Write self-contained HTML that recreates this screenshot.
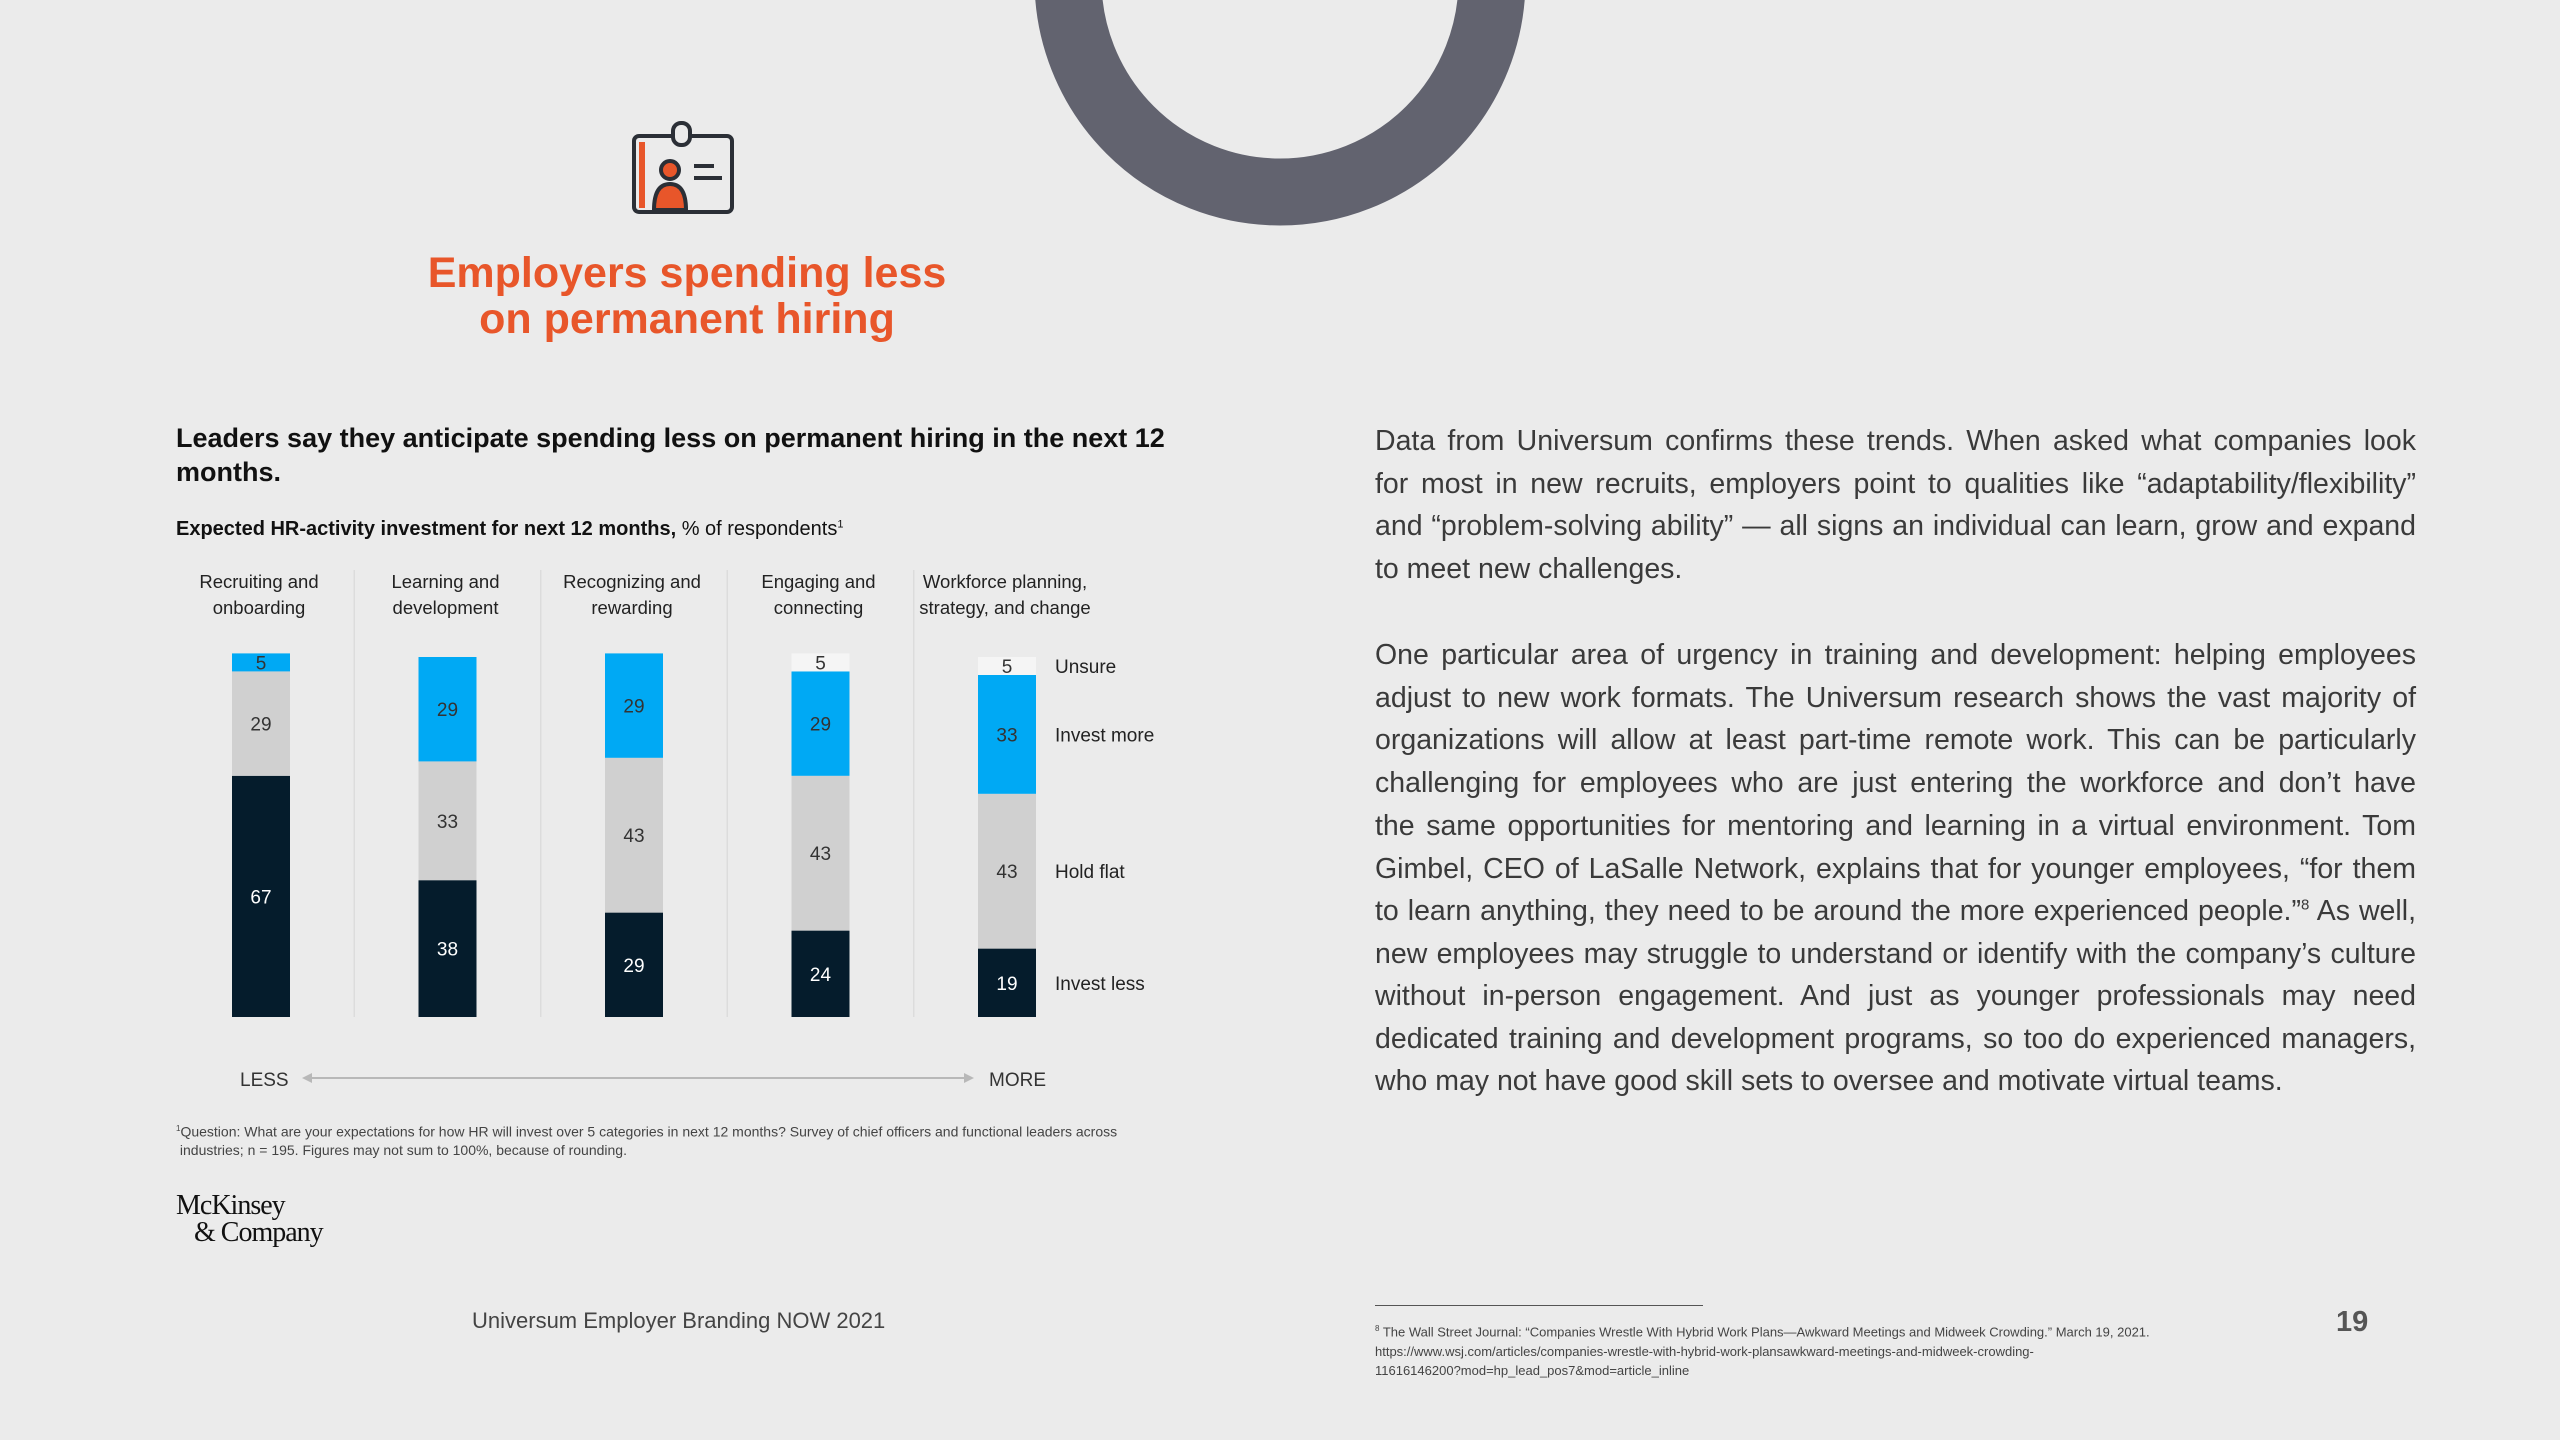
<!DOCTYPE html>
<html><head><meta charset="utf-8">
<style>
*{margin:0;padding:0;box-sizing:border-box}
body{width:2560px;height:1440px;background:#ebebeb;position:relative;overflow:hidden;font-family:"Liberation Sans",sans-serif}
.abs{position:absolute}
.title{left:287px;width:800px;text-align:center;color:#e8562a;font-weight:bold;font-size:43px;line-height:46px;top:250px}
.rt{left:1375px;width:1041px;color:#3a3a3a;font-size:28.5px;position:absolute;white-space:nowrap}
.j{text-align:justify;text-align-last:justify}
</style></head>
<body>
<svg class="abs" style="left:0;top:0" width="2560" height="1440">
<circle cx="1280" cy="-20" r="212" fill="none" stroke="#62636f" stroke-width="67"/>
</svg>
<svg class="abs" style="left:630px;top:118px" width="110" height="100" viewBox="0 0 110 100">
<rect x="4" y="18" width="98" height="76" rx="5" fill="none" stroke="#2b2f36" stroke-width="4"/>
<rect x="9" y="24" width="6" height="66" fill="#e8562a"/>
<rect x="43" y="5" width="17" height="22" rx="8" fill="#ebebeb" stroke="#2b2f36" stroke-width="4"/>
<circle cx="40" cy="52" r="9" fill="#e8562a" stroke="#2b2f36" stroke-width="4"/>
<path d="M24 92 Q24 66 40 66 Q56 66 56 92 Z" fill="#e8562a" stroke="#2b2f36" stroke-width="4"/>
<rect x="64" y="46" width="20" height="4" fill="#2b2f36"/><rect x="64" y="58" width="28" height="4" fill="#2b2f36"/>
</svg>
<div class="abs title">Employers spending less<br>on permanent hiring</div>

<div class="abs" style="left:176px;top:421px;width:1060px;font-size:27px;font-weight:bold;color:#111;line-height:34px">Leaders say they anticipate spending less on permanent hiring in the next 12 months.</div>
<div class="abs" style="left:176px;top:518px;font-size:20px;color:#111;white-space:nowrap"><b>Expected HR-activity investment for next 12 months,</b> % of respondents<sup style="font-size:11px">1</sup></div>

<svg id="chart" class="abs" style="left:0;top:0" width="2560" height="1440"></svg>

<div class="abs" style="left:176px;top:1120px;font-size:14px;color:#444;line-height:18px;white-space:nowrap"><sup style="font-size:8px">1</sup>Question: What are your expectations for how HR will invest over 5 categories in next 12 months? Survey of chief officers and functional leaders across<br>&nbsp;industries; n = 195. Figures may not sum to 100%, because of rounding.</div>
<div class="abs" style="left:176px;top:1192px;font-family:'Liberation Serif',serif;font-size:28px;line-height:27px;color:#111;letter-spacing:-1px">McKinsey<br>&nbsp;&nbsp;&nbsp;&amp; Company</div>
<div class="abs" style="left:472px;top:1308px;font-size:22px;color:#444">Universum Employer Branding NOW 2021</div>

<div>
<div class="rt j" style="top:425px">Data from Universum confirms these trends. When asked what companies look</div>
<div class="rt j" style="top:468px">for most in new recruits, employers point to qualities like “adaptability/flexibility”</div>
<div class="rt j" style="top:510px">and “problem-solving ability” — all signs an individual can learn, grow and expand</div>
<div class="rt" style="top:553px">to meet new challenges.</div>
</div>
<div>
<div class="rt j" style="top:639px">One particular area of urgency in training and development: helping employees</div>
<div class="rt j" style="top:682px">adjust to new work formats. The Universum research shows the vast majority of</div>
<div class="rt j" style="top:724px">organizations will allow at least part-time remote work. This can be particularly</div>
<div class="rt j" style="top:767px">challenging for employees who are just entering the workforce and don’t have</div>
<div class="rt j" style="top:810px">the same opportunities for mentoring and learning in a virtual environment. Tom</div>
<div class="rt j" style="top:853px">Gimbel, CEO of LaSalle Network, explains that for younger employees, “for them</div>
<div class="rt j" style="top:895px">to learn anything, they need to be around the more experienced people.”<sup style="font-size:15px">8</sup> As well,</div>
<div class="rt j" style="top:938px">new employees may struggle to understand or identify with the company’s culture</div>
<div class="rt j" style="top:980px">without in-person engagement. And just as younger professionals may need</div>
<div class="rt j" style="top:1023px">dedicated training and development programs, so too do experienced managers,</div>
<div class="rt" style="top:1065px">who may not have good skill sets to oversee and motivate virtual teams.</div>
</div>
<div class="abs" style="left:1375px;top:1305px;width:328px;height:1px;background:#555"></div>
<div class="abs" style="left:1375px;top:1319px;font-size:13px;line-height:19.5px;color:#444;white-space:nowrap"><sup style="font-size:8px">8</sup> The Wall Street Journal: “Companies Wrestle With Hybrid Work Plans—Awkward Meetings and Midweek Crowding.” March 19, 2021.<br>https://www.wsj.com/articles/companies-wrestle-with-hybrid-work-plansawkward-meetings-and-midweek-crowding-<br>11616146200?mod=hp_lead_pos7&amp;mod=article_inline</div>
<div class="abs" style="left:2336px;top:1306px;font-size:29px;font-weight:bold;color:#555">19</div>

<script>
const categories = [["Recruiting and","onboarding"],["Learning and","development"],["Recognizing and","rewarding"],["Engaging and","connecting"],["Workforce planning,","strategy, and change"]];
const investLess = [67,38,29,24,19];
const holdFlat = [29,33,43,43,43];
const investMore = [5,29,29,29,33];
const unsure = [0,0,0,5,5];
const seriesNames = ["Invest less","Hold flat","Invest more","Unsure"];

const NS="http://www.w3.org/2000/svg";
const svg=document.getElementById('chart');
const baseY=1017, unit=3.6, x0=261, step=186.5, bw=58;
const xC=i=>x0+i*step;
const yV=v=>baseY-v*unit;
function mk(tag,attrs){const e=document.createElementNS(NS,tag);for(const k in attrs)e.setAttribute(k,attrs[k]);svg.appendChild(e);return e;}
const series=[investLess,holdFlat,investMore,unsure];
const fills=["#051c2c","#d0d0d0","#00a9f4","#f5f5f5"];
const txtCol=["#ffffff","#333333","#333333","#333333"];
categories.forEach((c,i)=>{
  c.forEach((ln,k)=>{
    const t=mk('text',{x:xC(i)-2,y:588+k*26,'text-anchor':'middle','font-size':'18.5','fill':'#222'});
    t.textContent=ln;
    
    
  });
  if(i>0){
    const l=mk('line',{x1:xC(i)-step/2,x2:xC(i)-step/2,y1:570,y2:1017,stroke:'#dcdcdc','stroke-width':1.5});
    
    
  }
  let cum=0;
  series.forEach((s,si)=>{
    const v=s[i]; if(!v) return;
    const r=mk('rect',{x:xC(i)-bw/2,y:yV(cum+v),width:bw,height:v*unit,fill:fills[si]});
    
    
    const t=mk('text',{x:xC(i),y:yV(cum+v/2)+7,'text-anchor':'middle','font-size':'19',fill:txtCol[si]});
    t.textContent=v;
    
    
    if(i===categories.length-1){
      const lg=mk('text',{x:1055,y:yV(cum+v/2)+7,'font-size':'19',fill:'#222'});
      lg.textContent=seriesNames[si];
      
      
    }
    cum+=v;
  });
});
const less=mk('text',{x:240,y:1086,'font-size':'19',fill:'#333'});less.textContent='LESS';


const more=mk('text',{x:989,y:1086,'font-size':'19',fill:'#333'});more.textContent='MORE';


const ax=mk('line',{x1:308,x2:968,y1:1078,y2:1078,stroke:'#b8b8b8','stroke-width':2});


const a1=mk('path',{d:'M302 1078 L312 1073 L312 1083 Z',fill:'#b8b8b8'});


const a2=mk('path',{d:'M974 1078 L964 1073 L964 1083 Z',fill:'#b8b8b8'});


</script>
</body></html>
